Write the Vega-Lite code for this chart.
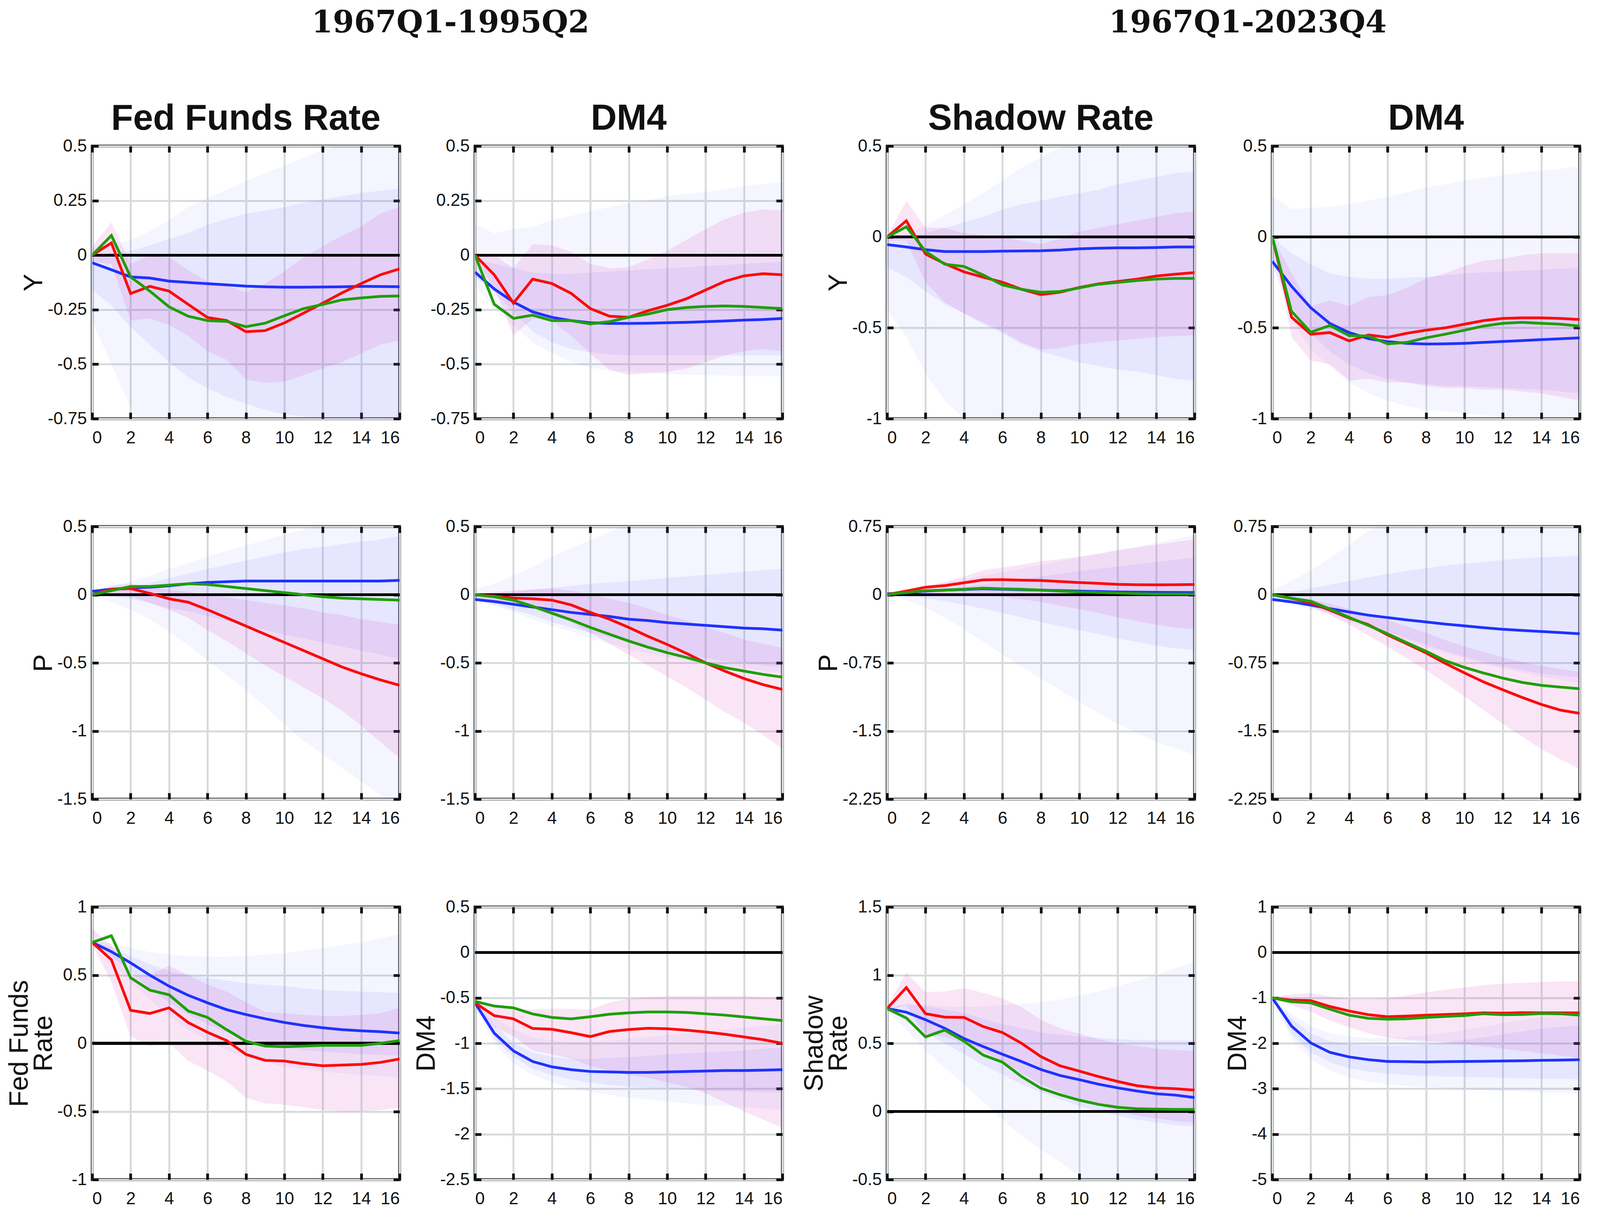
{
  "$schema": "https://vega.github.io/schema/vega-lite/v6.json",
  "background": "white",
  "padding": {"left": 12, "top": 20, "right": 2, "bottom": 2},
  "config": {
    "font": "Liberation Sans",
    "view": {"stroke": "#111111", "strokeWidth": 7},
    "line": {"strokeWidth": 7},
    "axis": {
      "grid": true, "gridColor": "#d6dbdb", "gridWidth": 5, "domain": false,
      "ticks": true, "tickColor": "#111111", "tickWidth": 7, "tickSize": -16,
      "labelFont": "Liberation Sans", "labelFontSize": 44, "labelColor": "#111111",
      "titleFont": "Liberation Sans", "titleFontSize": 68, "titleFontWeight": "normal",
      "titleColor": "#111111", "titlePadding": 0, "titleLineHeight": 62
    },
    "axisX": {"labelPadding": 43},
    "axisY": {"labelPadding": 30},
    "title": {"font": "Liberation Sans", "fontSize": 92, "fontWeight": "bold", "color": "#111111"}
  },
  "datasets": {
    "p11": [
      {"h":0,"b":-0.035,"r":0,"g":0,"bu":0.03,"bl":-0.3,"iu":0,"il":-0.16,"ru":0.04,"rl":-0.03},
      {"h":1,"b":-0.067,"r":0.056,"g":0.09,"bu":0.05,"bl":-0.5,"iu":0.01,"il":-0.23,"ru":0.15,"rl":-0.04},
      {"h":2,"b":-0.1,"r":-0.176,"g":-0.1,"bu":0.07,"bl":-0.7,"iu":0.02,"il":-0.33,"ru":-0.04,"rl":-0.3},
      {"h":3,"b":-0.105,"r":-0.143,"g":-0.165,"bu":0.11,"bl":-0.85,"iu":0.045,"il":-0.41,"ru":0,"rl":-0.29},
      {"h":4,"b":-0.119,"r":-0.165,"g":-0.237,"bu":0.16,"bl":-0.95,"iu":0.075,"il":-0.49,"ru":-0.01,"rl":-0.32},
      {"h":5,"b":-0.125,"r":-0.226,"g":-0.28,"bu":0.22,"bl":-1,"iu":0.1,"il":-0.56,"ru":-0.07,"rl":-0.37},
      {"h":6,"b":-0.131,"r":-0.286,"g":-0.3,"bu":0.26,"bl":-1,"iu":0.14,"il":-0.61,"ru":-0.12,"rl":-0.44},
      {"h":7,"b":-0.136,"r":-0.3,"g":-0.304,"bu":0.3,"bl":-1,"iu":0.165,"il":-0.65,"ru":-0.14,"rl":-0.48},
      {"h":8,"b":-0.142,"r":-0.351,"g":-0.328,"bu":0.34,"bl":-1,"iu":0.19,"il":-0.68,"ru":-0.17,"rl":-0.57},
      {"h":9,"b":-0.145,"r":-0.346,"g":-0.312,"bu":0.375,"bl":-1,"iu":0.205,"il":-0.71,"ru":-0.13,"rl":-0.585},
      {"h":10,"b":-0.147,"r":-0.311,"g":-0.278,"bu":0.41,"bl":-1,"iu":0.22,"il":-0.73,"ru":-0.075,"rl":-0.58},
      {"h":11,"b":-0.147,"r":-0.266,"g":-0.245,"bu":0.445,"bl":-1,"iu":0.24,"il":-0.74,"ru":-0.01,"rl":-0.55},
      {"h":12,"b":-0.146,"r":-0.22,"g":-0.226,"bu":0.48,"bl":-1,"iu":0.255,"il":-0.75,"ru":0.04,"rl":-0.52},
      {"h":13,"b":-0.145,"r":-0.173,"g":-0.205,"bu":0.51,"bl":-1,"iu":0.27,"il":-0.76,"ru":0.09,"rl":-0.49},
      {"h":14,"b":-0.143,"r":-0.13,"g":-0.196,"bu":0.54,"bl":-1,"iu":0.285,"il":-0.76,"ru":0.13,"rl":-0.45},
      {"h":15,"b":-0.144,"r":-0.09,"g":-0.189,"bu":0.57,"bl":-1,"iu":0.295,"il":-0.77,"ru":0.19,"rl":-0.41},
      {"h":16,"b":-0.145,"r":-0.063,"g":-0.187,"bu":0.6,"bl":-1,"iu":0.305,"il":-0.77,"ru":0.22,"rl":-0.39}
    ],
    "p12": [
      {"h":0,"b":-0.078,"r":0,"g":0,"bu":0.14,"bl":-0.14,"iu":-0.02,"il":-0.1,"ru":0,"rl":-0.01},
      {"h":1,"b":-0.155,"r":-0.09,"g":-0.225,"bu":0.1,"bl":-0.24,"iu":-0.04,"il":-0.17,"ru":0,"rl":-0.15},
      {"h":2,"b":-0.215,"r":-0.22,"g":-0.29,"bu":0.12,"bl":-0.32,"iu":-0.06,"il":-0.26,"ru":-0.06,"rl":-0.37},
      {"h":3,"b":-0.26,"r":-0.11,"g":-0.275,"bu":0.13,"bl":-0.4,"iu":-0.08,"il":-0.35,"ru":0.05,"rl":-0.29},
      {"h":4,"b":-0.285,"r":-0.13,"g":-0.3,"bu":0.16,"bl":-0.45,"iu":-0.085,"il":-0.4,"ru":0.045,"rl":-0.3},
      {"h":5,"b":-0.3,"r":-0.175,"g":-0.3,"bu":0.18,"bl":-0.49,"iu":-0.085,"il":-0.43,"ru":0.015,"rl":-0.37},
      {"h":6,"b":-0.31,"r":-0.245,"g":-0.315,"bu":0.2,"bl":-0.515,"iu":-0.08,"il":-0.445,"ru":-0.04,"rl":-0.45},
      {"h":7,"b":-0.313,"r":-0.28,"g":-0.305,"bu":0.22,"bl":-0.53,"iu":-0.075,"il":-0.455,"ru":-0.06,"rl":-0.525},
      {"h":8,"b":-0.313,"r":-0.285,"g":-0.285,"bu":0.24,"bl":-0.535,"iu":-0.07,"il":-0.46,"ru":-0.055,"rl":-0.55},
      {"h":9,"b":-0.312,"r":-0.255,"g":-0.27,"bu":0.25,"bl":-0.54,"iu":-0.065,"il":-0.46,"ru":-0.02,"rl":-0.54},
      {"h":10,"b":-0.31,"r":-0.23,"g":-0.25,"bu":0.27,"bl":-0.545,"iu":-0.06,"il":-0.46,"ru":0.02,"rl":-0.535},
      {"h":11,"b":-0.308,"r":-0.2,"g":-0.24,"bu":0.28,"bl":-0.548,"iu":-0.055,"il":-0.46,"ru":0.07,"rl":-0.52},
      {"h":12,"b":-0.305,"r":-0.16,"g":-0.235,"bu":0.29,"bl":-0.55,"iu":-0.05,"il":-0.46,"ru":0.12,"rl":-0.49},
      {"h":13,"b":-0.302,"r":-0.12,"g":-0.233,"bu":0.3,"bl":-0.552,"iu":-0.045,"il":-0.46,"ru":0.165,"rl":-0.46},
      {"h":14,"b":-0.298,"r":-0.095,"g":-0.235,"bu":0.315,"bl":-0.555,"iu":-0.04,"il":-0.46,"ru":0.195,"rl":-0.44},
      {"h":15,"b":-0.295,"r":-0.085,"g":-0.24,"bu":0.325,"bl":-0.555,"iu":-0.035,"il":-0.46,"ru":0.21,"rl":-0.43},
      {"h":16,"b":-0.29,"r":-0.09,"g":-0.245,"bu":0.335,"bl":-0.555,"iu":-0.03,"il":-0.46,"ru":0.205,"rl":-0.44}
    ],
    "p13": [
      {"h":0,"b":-0.042,"r":0,"g":0,"bu":0.01,"bl":-0.4,"iu":-0.01,"il":-0.17,"ru":0,"rl":-0.02},
      {"h":1,"b":-0.055,"r":0.089,"g":0.056,"bu":0.02,"bl":-0.55,"iu":0,"il":-0.22,"ru":0.2,"rl":-0.02},
      {"h":2,"b":-0.07,"r":-0.094,"g":-0.079,"bu":0.06,"bl":-0.75,"iu":0.02,"il":-0.3,"ru":0.05,"rl":-0.25},
      {"h":3,"b":-0.08,"r":-0.147,"g":-0.15,"bu":0.12,"bl":-0.9,"iu":0.05,"il":-0.37,"ru":0.05,"rl":-0.36},
      {"h":4,"b":-0.08,"r":-0.192,"g":-0.162,"bu":0.18,"bl":-1.0,"iu":0.08,"il":-0.42,"ru":0.02,"rl":-0.42},
      {"h":5,"b":-0.08,"r":-0.221,"g":-0.209,"bu":0.24,"bl":-1.08,"iu":0.11,"il":-0.48,"ru":0.01,"rl":-0.47},
      {"h":6,"b":-0.078,"r":-0.249,"g":-0.264,"bu":0.31,"bl":-1.15,"iu":0.15,"il":-0.53,"ru":0,"rl":-0.52},
      {"h":7,"b":-0.077,"r":-0.288,"g":-0.288,"bu":0.38,"bl":-1.2,"iu":0.18,"il":-0.59,"ru":-0.02,"rl":-0.58},
      {"h":8,"b":-0.076,"r":-0.317,"g":-0.304,"bu":0.44,"bl":-1.2,"iu":0.2,"il":-0.63,"ru":-0.04,"rl":-0.62},
      {"h":9,"b":-0.072,"r":-0.304,"g":-0.3,"bu":0.49,"bl":-1.2,"iu":0.22,"il":-0.66,"ru":-0.01,"rl":-0.61},
      {"h":10,"b":-0.065,"r":-0.278,"g":-0.28,"bu":0.53,"bl":-1.2,"iu":0.24,"il":-0.69,"ru":0.03,"rl":-0.59},
      {"h":11,"b":-0.062,"r":-0.258,"g":-0.26,"bu":0.56,"bl":-1.2,"iu":0.26,"il":-0.71,"ru":0.05,"rl":-0.58},
      {"h":12,"b":-0.06,"r":-0.245,"g":-0.25,"bu":0.6,"bl":-1.2,"iu":0.29,"il":-0.73,"ru":0.07,"rl":-0.57},
      {"h":13,"b":-0.06,"r":-0.232,"g":-0.24,"bu":0.62,"bl":-1.2,"iu":0.31,"il":-0.74,"ru":0.09,"rl":-0.56},
      {"h":14,"b":-0.058,"r":-0.215,"g":-0.232,"bu":0.64,"bl":-1.2,"iu":0.33,"il":-0.76,"ru":0.11,"rl":-0.55},
      {"h":15,"b":-0.055,"r":-0.205,"g":-0.228,"bu":0.66,"bl":-1.2,"iu":0.35,"il":-0.78,"ru":0.13,"rl":-0.545},
      {"h":16,"b":-0.055,"r":-0.196,"g":-0.228,"bu":0.68,"bl":-1.2,"iu":0.36,"il":-0.79,"ru":0.14,"rl":-0.54}
    ],
    "p14": [
      {"h":0,"b":-0.134,"r":0,"g":0,"bu":0.226,"bl":-0.15,"iu":0,"il":-0.15,"ru":0,"rl":0},
      {"h":1,"b":-0.271,"r":-0.441,"g":-0.408,"bu":0.154,"bl":-0.45,"iu":-0.09,"il":-0.38,"ru":-0.2,"rl":-0.55},
      {"h":2,"b":-0.389,"r":-0.535,"g":-0.524,"bu":0.16,"bl":-0.62,"iu":-0.15,"il":-0.53,"ru":-0.38,"rl":-0.68},
      {"h":3,"b":-0.476,"r":-0.526,"g":-0.487,"bu":0.165,"bl":-0.71,"iu":-0.2,"il":-0.63,"ru":-0.35,"rl":-0.7},
      {"h":4,"b":-0.526,"r":-0.572,"g":-0.543,"bu":0.18,"bl":-0.8,"iu":-0.22,"il":-0.7,"ru":-0.38,"rl":-0.79},
      {"h":5,"b":-0.559,"r":-0.539,"g":-0.545,"bu":0.2,"bl":-0.86,"iu":-0.23,"il":-0.75,"ru":-0.33,"rl":-0.78},
      {"h":6,"b":-0.576,"r":-0.552,"g":-0.588,"bu":0.22,"bl":-0.9,"iu":-0.23,"il":-0.78,"ru":-0.32,"rl":-0.8},
      {"h":7,"b":-0.585,"r":-0.53,"g":-0.58,"bu":0.245,"bl":-0.93,"iu":-0.225,"il":-0.8,"ru":-0.28,"rl":-0.8},
      {"h":8,"b":-0.589,"r":-0.513,"g":-0.555,"bu":0.27,"bl":-0.95,"iu":-0.22,"il":-0.81,"ru":-0.23,"rl":-0.82},
      {"h":9,"b":-0.588,"r":-0.5,"g":-0.535,"bu":0.29,"bl":-0.96,"iu":-0.21,"il":-0.82,"ru":-0.2,"rl":-0.83},
      {"h":10,"b":-0.585,"r":-0.48,"g":-0.513,"bu":0.31,"bl":-0.97,"iu":-0.2,"il":-0.82,"ru":-0.16,"rl":-0.83},
      {"h":11,"b":-0.58,"r":-0.46,"g":-0.49,"bu":0.325,"bl":-0.98,"iu":-0.195,"il":-0.825,"ru":-0.13,"rl":-0.84},
      {"h":12,"b":-0.575,"r":-0.448,"g":-0.475,"bu":0.34,"bl":-0.99,"iu":-0.19,"il":-0.83,"ru":-0.12,"rl":-0.84},
      {"h":13,"b":-0.57,"r":-0.445,"g":-0.47,"bu":0.355,"bl":-1.0,"iu":-0.185,"il":-0.835,"ru":-0.1,"rl":-0.85},
      {"h":14,"b":-0.565,"r":-0.445,"g":-0.475,"bu":0.365,"bl":-1.0,"iu":-0.18,"il":-0.84,"ru":-0.09,"rl":-0.86},
      {"h":15,"b":-0.56,"r":-0.448,"g":-0.48,"bu":0.375,"bl":-1.01,"iu":-0.175,"il":-0.85,"ru":-0.09,"rl":-0.88},
      {"h":16,"b":-0.555,"r":-0.454,"g":-0.49,"bu":0.387,"bl":-1.02,"iu":-0.17,"il":-0.86,"ru":-0.09,"rl":-0.9}
    ],
    "p21": [
      {"h":0,"b":0.025,"r":0,"g":0,"bu":0.03,"bl":-0.01,"iu":0.01,"il":0,"ru":0.01,"rl":-0.01},
      {"h":1,"b":0.04,"r":0.04,"g":0.03,"bu":0.06,"bl":-0.05,"iu":0.03,"il":-0.01,"ru":0.07,"rl":-0.01},
      {"h":2,"b":0.05,"r":0.045,"g":0.06,"bu":0.1,"bl":-0.11,"iu":0.055,"il":-0.03,"ru":0.08,"rl":-0.01},
      {"h":3,"b":0.055,"r":0.01,"g":0.06,"bu":0.14,"bl":-0.18,"iu":0.085,"il":-0.06,"ru":0.06,"rl":-0.06},
      {"h":4,"b":0.065,"r":-0.03,"g":0.07,"bu":0.19,"bl":-0.27,"iu":0.12,"il":-0.1,"ru":0.035,"rl":-0.11},
      {"h":5,"b":0.08,"r":-0.055,"g":0.08,"bu":0.23,"bl":-0.37,"iu":0.155,"il":-0.12,"ru":0.02,"rl":-0.17},
      {"h":6,"b":0.09,"r":-0.11,"g":0.075,"bu":0.28,"bl":-0.48,"iu":0.19,"il":-0.155,"ru":-0.005,"rl":-0.26},
      {"h":7,"b":0.095,"r":-0.17,"g":0.06,"bu":0.32,"bl":-0.59,"iu":0.22,"il":-0.19,"ru":-0.02,"rl":-0.34},
      {"h":8,"b":0.1,"r":-0.23,"g":0.045,"bu":0.36,"bl":-0.7,"iu":0.25,"il":-0.225,"ru":-0.04,"rl":-0.43},
      {"h":9,"b":0.1,"r":-0.29,"g":0.03,"bu":0.4,"bl":-0.82,"iu":0.28,"il":-0.26,"ru":-0.06,"rl":-0.52},
      {"h":10,"b":0.1,"r":-0.35,"g":0.015,"bu":0.44,"bl":-0.95,"iu":0.31,"il":-0.295,"ru":-0.08,"rl":-0.6},
      {"h":11,"b":0.1,"r":-0.41,"g":0,"bu":0.48,"bl":-1.07,"iu":0.335,"il":-0.32,"ru":-0.1,"rl":-0.68},
      {"h":12,"b":0.1,"r":-0.47,"g":-0.015,"bu":0.52,"bl":-1.17,"iu":0.35,"il":-0.35,"ru":-0.13,"rl":-0.76},
      {"h":13,"b":0.1,"r":-0.53,"g":-0.025,"bu":0.55,"bl":-1.27,"iu":0.37,"il":-0.38,"ru":-0.15,"rl":-0.85},
      {"h":14,"b":0.1,"r":-0.58,"g":-0.03,"bu":0.58,"bl":-1.37,"iu":0.39,"il":-0.41,"ru":-0.18,"rl":-0.96},
      {"h":15,"b":0.1,"r":-0.625,"g":-0.035,"bu":0.6,"bl":-1.47,"iu":0.405,"il":-0.44,"ru":-0.2,"rl":-1.08},
      {"h":16,"b":0.105,"r":-0.665,"g":-0.04,"bu":0.62,"bl":-1.56,"iu":0.43,"il":-0.47,"ru":-0.22,"rl":-1.2}
    ],
    "p22": [
      {"h":0,"b":-0.035,"r":0,"g":0,"bu":0.04,"bl":-0.04,"iu":0,"il":-0.04,"ru":0,"rl":-0.03},
      {"h":1,"b":-0.05,"r":-0.01,"g":-0.015,"bu":0.08,"bl":-0.08,"iu":0.01,"il":-0.07,"ru":0.02,"rl":-0.05},
      {"h":2,"b":-0.07,"r":-0.025,"g":-0.04,"bu":0.14,"bl":-0.13,"iu":0.02,"il":-0.11,"ru":0.03,"rl":-0.07},
      {"h":3,"b":-0.09,"r":-0.03,"g":-0.085,"bu":0.2,"bl":-0.18,"iu":0.035,"il":-0.15,"ru":0.04,"rl":-0.1},
      {"h":4,"b":-0.11,"r":-0.04,"g":-0.135,"bu":0.28,"bl":-0.23,"iu":0.05,"il":-0.2,"ru":0.045,"rl":-0.15},
      {"h":5,"b":-0.13,"r":-0.075,"g":-0.185,"bu":0.34,"bl":-0.27,"iu":0.065,"il":-0.24,"ru":0.03,"rl":-0.2},
      {"h":6,"b":-0.145,"r":-0.13,"g":-0.24,"bu":0.4,"bl":-0.315,"iu":0.08,"il":-0.28,"ru":0,"rl":-0.28},
      {"h":7,"b":-0.16,"r":-0.18,"g":-0.29,"bu":0.46,"bl":-0.36,"iu":0.09,"il":-0.31,"ru":-0.03,"rl":-0.36},
      {"h":8,"b":-0.18,"r":-0.24,"g":-0.34,"bu":0.52,"bl":-0.4,"iu":0.1,"il":-0.345,"ru":-0.06,"rl":-0.44},
      {"h":9,"b":-0.19,"r":-0.305,"g":-0.385,"bu":0.55,"bl":-0.43,"iu":0.11,"il":-0.38,"ru":-0.1,"rl":-0.52},
      {"h":10,"b":-0.205,"r":-0.365,"g":-0.425,"bu":0.58,"bl":-0.46,"iu":0.125,"il":-0.41,"ru":-0.15,"rl":-0.6},
      {"h":11,"b":-0.215,"r":-0.43,"g":-0.46,"bu":0.61,"bl":-0.48,"iu":0.135,"il":-0.44,"ru":-0.19,"rl":-0.68},
      {"h":12,"b":-0.225,"r":-0.5,"g":-0.5,"bu":0.64,"bl":-0.5,"iu":0.145,"il":-0.465,"ru":-0.24,"rl":-0.77},
      {"h":13,"b":-0.235,"r":-0.56,"g":-0.535,"bu":0.66,"bl":-0.52,"iu":0.155,"il":-0.49,"ru":-0.28,"rl":-0.86},
      {"h":14,"b":-0.245,"r":-0.615,"g":-0.56,"bu":0.68,"bl":-0.54,"iu":0.17,"il":-0.5,"ru":-0.33,"rl":-0.94},
      {"h":15,"b":-0.25,"r":-0.66,"g":-0.585,"bu":0.7,"bl":-0.56,"iu":0.18,"il":-0.52,"ru":-0.36,"rl":-1.03},
      {"h":16,"b":-0.26,"r":-0.695,"g":-0.605,"bu":0.72,"bl":-0.57,"iu":0.19,"il":-0.53,"ru":-0.39,"rl":-1.13}
    ],
    "p23": [
      {"h":0,"b":0.01,"r":0,"g":0,"bu":0.02,"bl":-0.01,"iu":0.01,"il":-0.01,"ru":0.01,"rl":0},
      {"h":1,"b":0.02,"r":0.04,"g":0.025,"bu":0.05,"bl":-0.06,"iu":0.03,"il":-0.02,"ru":0.04,"rl":0},
      {"h":2,"b":0.04,"r":0.082,"g":0.044,"bu":0.09,"bl":-0.14,"iu":0.05,"il":-0.04,"ru":0.1,"rl":0.01},
      {"h":3,"b":0.05,"r":0.1,"g":0.05,"bu":0.13,"bl":-0.25,"iu":0.07,"il":-0.07,"ru":0.14,"rl":0},
      {"h":4,"b":0.057,"r":0.131,"g":0.06,"bu":0.17,"bl":-0.38,"iu":0.09,"il":-0.11,"ru":0.2,"rl":0},
      {"h":5,"b":0.065,"r":0.163,"g":0.072,"bu":0.21,"bl":-0.52,"iu":0.115,"il":-0.155,"ru":0.27,"rl":-0.01},
      {"h":6,"b":0.06,"r":0.165,"g":0.065,"bu":0.25,"bl":-0.66,"iu":0.14,"il":-0.2,"ru":0.3,"rl":-0.02},
      {"h":7,"b":0.055,"r":0.16,"g":0.06,"bu":0.29,"bl":-0.79,"iu":0.17,"il":-0.25,"ru":0.33,"rl":-0.05},
      {"h":8,"b":0.05,"r":0.156,"g":0.05,"bu":0.33,"bl":-0.92,"iu":0.2,"il":-0.3,"ru":0.37,"rl":-0.08},
      {"h":9,"b":0.045,"r":0.145,"g":0.04,"bu":0.37,"bl":-1.05,"iu":0.23,"il":-0.345,"ru":0.39,"rl":-0.12},
      {"h":10,"b":0.04,"r":0.133,"g":0.03,"bu":0.41,"bl":-1.18,"iu":0.26,"il":-0.39,"ru":0.42,"rl":-0.16},
      {"h":11,"b":0.035,"r":0.125,"g":0.025,"bu":0.45,"bl":-1.3,"iu":0.285,"il":-0.435,"ru":0.45,"rl":-0.2},
      {"h":12,"b":0.03,"r":0.114,"g":0.018,"bu":0.49,"bl":-1.42,"iu":0.31,"il":-0.48,"ru":0.49,"rl":-0.25},
      {"h":13,"b":0.028,"r":0.11,"g":0.012,"bu":0.53,"bl":-1.52,"iu":0.335,"il":-0.52,"ru":0.52,"rl":-0.29},
      {"h":14,"b":0.026,"r":0.108,"g":0.008,"bu":0.57,"bl":-1.62,"iu":0.36,"il":-0.56,"ru":0.55,"rl":-0.33},
      {"h":15,"b":0.025,"r":0.11,"g":0.007,"bu":0.61,"bl":-1.69,"iu":0.385,"il":-0.59,"ru":0.58,"rl":-0.36},
      {"h":16,"b":0.024,"r":0.112,"g":0.006,"bu":0.66,"bl":-1.76,"iu":0.41,"il":-0.61,"ru":0.61,"rl":-0.38}
    ],
    "p24": [
      {"h":0,"b":-0.052,"r":0,"g":0,"bu":0.05,"bl":-0.06,"iu":0,"il":-0.06,"ru":0,"rl":-0.02},
      {"h":1,"b":-0.079,"r":-0.04,"g":-0.04,"bu":0.15,"bl":-0.1,"iu":0.03,"il":-0.09,"ru":-0.02,"rl":-0.06},
      {"h":2,"b":-0.114,"r":-0.09,"g":-0.072,"bu":0.27,"bl":-0.16,"iu":0.07,"il":-0.14,"ru":-0.05,"rl":-0.12},
      {"h":3,"b":-0.153,"r":-0.17,"g":-0.158,"bu":0.4,"bl":-0.22,"iu":0.11,"il":-0.2,"ru":-0.1,"rl":-0.22},
      {"h":4,"b":-0.19,"r":-0.257,"g":-0.249,"bu":0.55,"bl":-0.3,"iu":0.15,"il":-0.27,"ru":-0.16,"rl":-0.33},
      {"h":5,"b":-0.225,"r":-0.33,"g":-0.338,"bu":0.7,"bl":-0.37,"iu":0.19,"il":-0.34,"ru":-0.22,"rl":-0.45},
      {"h":6,"b":-0.252,"r":-0.442,"g":-0.43,"bu":0.82,"bl":-0.45,"iu":0.23,"il":-0.41,"ru":-0.28,"rl":-0.57},
      {"h":7,"b":-0.277,"r":-0.54,"g":-0.528,"bu":0.9,"bl":-0.52,"iu":0.26,"il":-0.48,"ru":-0.35,"rl":-0.7},
      {"h":8,"b":-0.3,"r":-0.64,"g":-0.622,"bu":0.95,"bl":-0.58,"iu":0.29,"il":-0.55,"ru":-0.42,"rl":-0.83},
      {"h":9,"b":-0.323,"r":-0.755,"g":-0.726,"bu":1,"bl":-0.64,"iu":0.32,"il":-0.62,"ru":-0.5,"rl":-0.97},
      {"h":10,"b":-0.343,"r":-0.86,"g":-0.8,"bu":1,"bl":-0.7,"iu":0.34,"il":-0.68,"ru":-0.57,"rl":-1.12},
      {"h":11,"b":-0.363,"r":-0.96,"g":-0.862,"bu":1,"bl":-0.76,"iu":0.36,"il":-0.74,"ru":-0.63,"rl":-1.27},
      {"h":12,"b":-0.38,"r":-1.047,"g":-0.918,"bu":1,"bl":-0.81,"iu":0.38,"il":-0.79,"ru":-0.69,"rl":-1.42},
      {"h":13,"b":-0.393,"r":-1.13,"g":-0.965,"bu":1,"bl":-0.86,"iu":0.4,"il":-0.83,"ru":-0.74,"rl":-1.56},
      {"h":14,"b":-0.405,"r":-1.207,"g":-0.997,"bu":1,"bl":-0.9,"iu":0.41,"il":-0.87,"ru":-0.78,"rl":-1.7},
      {"h":15,"b":-0.417,"r":-1.27,"g":-1.017,"bu":1,"bl":-0.94,"iu":0.42,"il":-0.89,"ru":-0.82,"rl":-1.81},
      {"h":16,"b":-0.43,"r":-1.306,"g":-1.035,"bu":1,"bl":-0.97,"iu":0.43,"il":-0.91,"ru":-0.85,"rl":-1.92}
    ],
    "p31": [
      {"h":0,"b":0.74,"r":0.74,"g":0.74,"bu":0.75,"bl":0.74,"iu":0.75,"il":0.74,"ru":0.84,"rl":0.72},
      {"h":1,"b":0.672,"r":0.6125,"g":0.789,"bu":0.73,"bl":0.6,"iu":0.7,"il":0.64,"ru":0.72,"rl":0.45},
      {"h":2,"b":0.59,"r":0.242,"g":0.481,"bu":0.7,"bl":0.45,"iu":0.64,"il":0.52,"ru":0.49,"rl":0.05},
      {"h":3,"b":0.5,"r":0.219,"g":0.39,"bu":0.67,"bl":0.32,"iu":0.58,"il":0.4,"ru":0.5,"rl":-0.02},
      {"h":4,"b":0.419,"r":0.26,"g":0.356,"bu":0.65,"bl":0.2,"iu":0.53,"il":0.3,"ru":0.57,"rl":0},
      {"h":5,"b":0.352,"r":0.152,"g":0.237,"bu":0.64,"bl":0.1,"iu":0.5,"il":0.21,"ru":0.5,"rl":-0.13},
      {"h":6,"b":0.297,"r":0.081,"g":0.19,"bu":0.635,"bl":0.02,"iu":0.48,"il":0.14,"ru":0.43,"rl":-0.2},
      {"h":7,"b":0.247,"r":0.02,"g":0.1,"bu":0.635,"bl":-0.05,"iu":0.46,"il":0.08,"ru":0.38,"rl":-0.28},
      {"h":8,"b":0.211,"r":-0.081,"g":0.015,"bu":0.64,"bl":-0.1,"iu":0.44,"il":0.03,"ru":0.3,"rl":-0.4},
      {"h":9,"b":0.18,"r":-0.125,"g":-0.02,"bu":0.65,"bl":-0.14,"iu":0.43,"il":0,"ru":0.23,"rl":-0.44},
      {"h":10,"b":0.153,"r":-0.13,"g":-0.025,"bu":0.66,"bl":-0.17,"iu":0.42,"il":-0.03,"ru":0.22,"rl":-0.45},
      {"h":11,"b":0.131,"r":-0.15,"g":-0.02,"bu":0.68,"bl":-0.19,"iu":0.405,"il":-0.05,"ru":0.21,"rl":-0.47},
      {"h":12,"b":0.114,"r":-0.165,"g":-0.015,"bu":0.7,"bl":-0.21,"iu":0.39,"il":-0.06,"ru":0.2,"rl":-0.49},
      {"h":13,"b":0.1,"r":-0.16,"g":-0.015,"bu":0.72,"bl":-0.22,"iu":0.385,"il":-0.07,"ru":0.2,"rl":-0.5},
      {"h":14,"b":0.092,"r":-0.155,"g":-0.015,"bu":0.74,"bl":-0.23,"iu":0.38,"il":-0.08,"ru":0.21,"rl":-0.5},
      {"h":15,"b":0.085,"r":-0.14,"g":0,"bu":0.77,"bl":-0.24,"iu":0.375,"il":-0.085,"ru":0.22,"rl":-0.49},
      {"h":16,"b":0.075,"r":-0.115,"g":0.02,"bu":0.8,"bl":-0.25,"iu":0.37,"il":-0.09,"ru":0.26,"rl":-0.47}
    ],
    "p32": [
      {"h":0,"b":-0.555,"r":-0.555,"g":-0.539,"bu":-0.5,"bl":-0.6,"iu":-0.53,"il":-0.57,"ru":-0.52,"rl":-0.58},
      {"h":1,"b":-0.888,"r":-0.696,"g":-0.59,"bu":-0.7,"bl":-1.0,"iu":-0.8,"il":-0.95,"ru":-0.6,"rl":-0.82},
      {"h":2,"b":-1.083,"r":-0.731,"g":-0.61,"bu":-0.85,"bl":-1.22,"iu":-1.0,"il":-1.15,"ru":-0.62,"rl":-0.92},
      {"h":3,"b":-1.2,"r":-0.837,"g":-0.677,"bu":-0.93,"bl":-1.35,"iu":-1.1,"il":-1.28,"ru":-0.63,"rl":-1.08},
      {"h":4,"b":-1.259,"r":-0.845,"g":-0.715,"bu":-0.97,"bl":-1.43,"iu":-1.15,"il":-1.35,"ru":-0.62,"rl":-1.12},
      {"h":5,"b":-1.29,"r":-0.883,"g":-0.731,"bu":-0.98,"bl":-1.49,"iu":-1.17,"il":-1.4,"ru":-0.62,"rl":-1.17},
      {"h":6,"b":-1.31,"r":-0.926,"g":-0.708,"bu":-0.98,"bl":-1.53,"iu":-1.17,"il":-1.43,"ru":-0.63,"rl":-1.25},
      {"h":7,"b":-1.315,"r":-0.87,"g":-0.68,"bu":-0.97,"bl":-1.57,"iu":-1.16,"il":-1.46,"ru":-0.55,"rl":-1.3},
      {"h":8,"b":-1.32,"r":-0.848,"g":-0.665,"bu":-0.95,"bl":-1.6,"iu":-1.15,"il":-1.48,"ru":-0.51,"rl":-1.35},
      {"h":9,"b":-1.32,"r":-0.835,"g":-0.655,"bu":-0.93,"bl":-1.62,"iu":-1.14,"il":-1.49,"ru":-0.49,"rl":-1.38},
      {"h":10,"b":-1.315,"r":-0.84,"g":-0.655,"bu":-0.91,"bl":-1.64,"iu":-1.12,"il":-1.5,"ru":-0.48,"rl":-1.43},
      {"h":11,"b":-1.31,"r":-0.855,"g":-0.66,"bu":-0.89,"bl":-1.66,"iu":-1.11,"il":-1.51,"ru":-0.48,"rl":-1.48},
      {"h":12,"b":-1.305,"r":-0.875,"g":-0.675,"bu":-0.87,"bl":-1.68,"iu":-1.1,"il":-1.52,"ru":-0.48,"rl":-1.55},
      {"h":13,"b":-1.3,"r":-0.9,"g":-0.69,"bu":-0.85,"bl":-1.69,"iu":-1.09,"il":-1.53,"ru":-0.48,"rl":-1.65},
      {"h":14,"b":-1.3,"r":-0.93,"g":-0.71,"bu":-0.83,"bl":-1.7,"iu":-1.08,"il":-1.53,"ru":-0.48,"rl":-1.75},
      {"h":15,"b":-1.295,"r":-0.96,"g":-0.73,"bu":-0.81,"bl":-1.72,"iu":-1.06,"il":-1.54,"ru":-0.49,"rl":-1.84},
      {"h":16,"b":-1.29,"r":-1.0,"g":-0.75,"bu":-0.79,"bl":-1.73,"iu":-1.05,"il":-1.54,"ru":-0.49,"rl":-1.93}
    ],
    "p33": [
      {"h":0,"b":0.755,"r":0.755,"g":0.755,"bu":0.76,"bl":0.74,"iu":0.76,"il":0.745,"ru":0.77,"rl":0.74},
      {"h":1,"b":0.728,"r":0.909,"g":0.686,"bu":0.79,"bl":0.6,"iu":0.785,"il":0.66,"ru":1.02,"rl":0.78},
      {"h":2,"b":0.673,"r":0.717,"g":0.547,"bu":0.78,"bl":0.45,"iu":0.77,"il":0.58,"ru":0.877,"rl":0.56},
      {"h":3,"b":0.61,"r":0.692,"g":0.597,"bu":0.77,"bl":0.32,"iu":0.75,"il":0.5,"ru":0.88,"rl":0.55},
      {"h":4,"b":0.535,"r":0.69,"g":0.516,"bu":0.77,"bl":0.2,"iu":0.72,"il":0.42,"ru":0.905,"rl":0.5},
      {"h":5,"b":0.476,"r":0.623,"g":0.414,"bu":0.77,"bl":0.07,"iu":0.68,"il":0.34,"ru":0.87,"rl":0.44},
      {"h":6,"b":0.42,"r":0.579,"g":0.362,"bu":0.78,"bl":-0.06,"iu":0.64,"il":0.27,"ru":0.83,"rl":0.37},
      {"h":7,"b":0.366,"r":0.5,"g":0.256,"bu":0.79,"bl":-0.18,"iu":0.61,"il":0.2,"ru":0.764,"rl":0.28},
      {"h":8,"b":0.308,"r":0.403,"g":0.17,"bu":0.8,"bl":-0.28,"iu":0.58,"il":0.14,"ru":0.673,"rl":0.2},
      {"h":9,"b":0.264,"r":0.335,"g":0.123,"bu":0.82,"bl":-0.37,"iu":0.565,"il":0.09,"ru":0.61,"rl":0.14},
      {"h":10,"b":0.233,"r":0.296,"g":0.083,"bu":0.85,"bl":-0.47,"iu":0.55,"il":0.04,"ru":0.57,"rl":0.09},
      {"h":11,"b":0.2,"r":0.256,"g":0.052,"bu":0.88,"bl":-0.55,"iu":0.54,"il":0,"ru":0.53,"rl":0.05},
      {"h":12,"b":0.173,"r":0.22,"g":0.031,"bu":0.92,"bl":-0.62,"iu":0.53,"il":-0.03,"ru":0.5,"rl":0},
      {"h":13,"b":0.15,"r":0.189,"g":0.02,"bu":0.96,"bl":-0.68,"iu":0.525,"il":-0.06,"ru":0.48,"rl":-0.03},
      {"h":14,"b":0.13,"r":0.173,"g":0.017,"bu":1.0,"bl":-0.73,"iu":0.52,"il":-0.08,"ru":0.46,"rl":-0.05},
      {"h":15,"b":0.12,"r":0.167,"g":0.015,"bu":1.05,"bl":-0.77,"iu":0.52,"il":-0.1,"ru":0.45,"rl":-0.07},
      {"h":16,"b":0.102,"r":0.157,"g":0.015,"bu":1.1,"bl":-0.8,"iu":0.52,"il":-0.11,"ru":0.445,"rl":-0.078}
    ],
    "p34": [
      {"h":0,"b":-1.0,"r":-1.0,"g":-1.0,"bu":-1.0,"bl":-1.0,"iu":-1.0,"il":-1.0,"ru":-0.98,"rl":-1.02},
      {"h":1,"b":-1.62,"r":-1.05,"g":-1.085,"bu":-1.35,"bl":-1.9,"iu":-1.45,"il":-1.8,"ru":-0.93,"rl":-1.17},
      {"h":2,"b":-1.99,"r":-1.06,"g":-1.11,"bu":-1.62,"bl":-2.35,"iu":-1.78,"il":-2.2,"ru":-0.89,"rl":-1.3},
      {"h":3,"b":-2.2,"r":-1.19,"g":-1.25,"bu":-1.78,"bl":-2.6,"iu":-1.95,"il":-2.42,"ru":-0.97,"rl":-1.5},
      {"h":4,"b":-2.3,"r":-1.29,"g":-1.38,"bu":-1.85,"bl":-2.75,"iu":-2.02,"il":-2.55,"ru":-1.02,"rl":-1.65},
      {"h":5,"b":-2.36,"r":-1.37,"g":-1.45,"bu":-1.88,"bl":-2.84,"iu":-2.05,"il":-2.62,"ru":-1.03,"rl":-1.78},
      {"h":6,"b":-2.4,"r":-1.415,"g":-1.47,"bu":-1.88,"bl":-2.9,"iu":-2.06,"il":-2.67,"ru":-1.0,"rl":-1.87},
      {"h":7,"b":-2.405,"r":-1.4,"g":-1.46,"bu":-1.86,"bl":-2.94,"iu":-2.05,"il":-2.7,"ru":-0.95,"rl":-1.92},
      {"h":8,"b":-2.41,"r":-1.38,"g":-1.43,"bu":-1.82,"bl":-2.97,"iu":-2.02,"il":-2.72,"ru":-0.88,"rl":-1.95},
      {"h":9,"b":-2.405,"r":-1.365,"g":-1.41,"bu":-1.77,"bl":-2.99,"iu":-1.98,"il":-2.73,"ru":-0.82,"rl":-1.98},
      {"h":10,"b":-2.4,"r":-1.35,"g":-1.39,"bu":-1.71,"bl":-3.01,"iu":-1.93,"il":-2.74,"ru":-0.77,"rl":-2.02},
      {"h":11,"b":-2.395,"r":-1.33,"g":-1.35,"bu":-1.64,"bl":-3.03,"iu":-1.87,"il":-2.75,"ru":-0.72,"rl":-2.07},
      {"h":12,"b":-2.39,"r":-1.335,"g":-1.37,"bu":-1.56,"bl":-3.05,"iu":-1.8,"il":-2.76,"ru":-0.69,"rl":-2.12},
      {"h":13,"b":-2.385,"r":-1.325,"g":-1.365,"bu":-1.49,"bl":-3.06,"iu":-1.74,"il":-2.77,"ru":-0.67,"rl":-2.17},
      {"h":14,"b":-2.375,"r":-1.33,"g":-1.345,"bu":-1.42,"bl":-3.08,"iu":-1.68,"il":-2.78,"ru":-0.65,"rl":-2.22},
      {"h":15,"b":-2.37,"r":-1.33,"g":-1.35,"bu":-1.37,"bl":-3.09,"iu":-1.64,"il":-2.78,"ru":-0.64,"rl":-2.27},
      {"h":16,"b":-2.36,"r":-1.33,"g":-1.38,"bu":-1.32,"bl":-3.1,"iu":-1.6,"il":-2.79,"ru":-0.64,"rl":-2.32}
    ]
  },
  "hconcat": [
    {
      "title": {"text": "1967Q1-1995Q2", "font": "DejaVu Serif", "fontSize": 78, "fontWeight": "bold", "baseline": "alphabetic", "anchor": "middle", "offset": 94, "dx": 142},
      "columns": 2,
      "spacing": {"column": 193, "row": 276},
      "bounds": "flush",
      "concat": [
        {"width": 787, "height": 698, "data": {"name": "p11"},
         "title": {"text": "Fed Funds Rate", "baseline": "alphabetic", "offset": -72},
         "layer": [
          {"mark": {"type": "area", "clip": true, "color": "#5b5bff", "opacity": 0.06},
           "encoding": {"x": {"field": "h", "type": "quantitative", "scale": {"domain": [0, 16], "nice": false}, "axis": {"orient": "bottom", "values": [0,2,4,6,8,10,12,14,16], "title": null}},
             "y": {"field": "bl", "type": "quantitative", "scale": {"domain": [-0.75, 0.5], "nice": false, "zero": false}, "axis": {"orient": "left", "values": [-0.75,-0.5,-0.25,0,0.25,0.5], "labelExpr": "'' + datum.value", "title": "Y"}},
             "y2": {"field": "bu"}}},
          {"mark": {"type": "area", "clip": true, "color": "#5b5bff", "opacity": 0.09},
           "encoding": {"x": {"field": "h", "type": "quantitative", "axis": null}, "y": {"field": "il", "type": "quantitative", "axis": null}, "y2": {"field": "iu"}}},
          {"mark": {"type": "area", "clip": true, "color": "#d526b4", "opacity": 0.12},
           "encoding": {"x": {"field": "h", "type": "quantitative", "axis": null}, "y": {"field": "rl", "type": "quantitative", "axis": null}, "y2": {"field": "ru"}}},
          {"mark": {"type": "rule", "color": "#000000", "strokeWidth": 6.5}, "encoding": {"y": {"datum": 0, "axis": null}}},
          {"mark": {"type": "line", "clip": true, "color": "#1e32ff"},
           "encoding": {"x": {"field": "h", "type": "quantitative", "axis": {"orient": "top", "values": [0,2,4,6,8,10,12,14,16], "labels": false, "grid": false, "title": null}},
             "y": {"field": "b", "type": "quantitative", "axis": {"orient": "right", "values": [-0.75,-0.5,-0.25,0,0.25,0.5], "labels": false, "grid": false, "title": null}}}},
          {"mark": {"type": "line", "clip": true, "color": "#ff0a0a"}, "encoding": {"x": {"field": "h", "type": "quantitative", "axis": null}, "y": {"field": "r", "type": "quantitative", "axis": null}}},
          {"mark": {"type": "line", "clip": true, "color": "#1f9e08"}, "encoding": {"x": {"field": "h", "type": "quantitative", "axis": null}, "y": {"field": "g", "type": "quantitative", "axis": null}}}
         ]},
        {"width": 787, "height": 698, "data": {"name": "p12"},
         "title": {"text": "DM4", "baseline": "alphabetic", "offset": -72},
         "layer": [
          {"mark": {"type": "area", "clip": true, "color": "#5b5bff", "opacity": 0.06},
           "encoding": {"x": {"field": "h", "type": "quantitative", "scale": {"domain": [0, 16], "nice": false}, "axis": {"orient": "bottom", "values": [0,2,4,6,8,10,12,14,16], "title": null}},
             "y": {"field": "bl", "type": "quantitative", "scale": {"domain": [-0.75, 0.5], "nice": false, "zero": false}, "axis": {"orient": "left", "values": [-0.75,-0.5,-0.25,0,0.25,0.5], "labelExpr": "'' + datum.value", "title": null}},
             "y2": {"field": "bu"}}},
          {"mark": {"type": "area", "clip": true, "color": "#5b5bff", "opacity": 0.09},
           "encoding": {"x": {"field": "h", "type": "quantitative", "axis": null}, "y": {"field": "il", "type": "quantitative", "axis": null}, "y2": {"field": "iu"}}},
          {"mark": {"type": "area", "clip": true, "color": "#d526b4", "opacity": 0.12},
           "encoding": {"x": {"field": "h", "type": "quantitative", "axis": null}, "y": {"field": "rl", "type": "quantitative", "axis": null}, "y2": {"field": "ru"}}},
          {"mark": {"type": "rule", "color": "#000000", "strokeWidth": 6.5}, "encoding": {"y": {"datum": 0, "axis": null}}},
          {"mark": {"type": "line", "clip": true, "color": "#1e32ff"},
           "encoding": {"x": {"field": "h", "type": "quantitative", "axis": {"orient": "top", "values": [0,2,4,6,8,10,12,14,16], "labels": false, "grid": false, "title": null}},
             "y": {"field": "b", "type": "quantitative", "axis": {"orient": "right", "values": [-0.75,-0.5,-0.25,0,0.25,0.5], "labels": false, "grid": false, "title": null}}}},
          {"mark": {"type": "line", "clip": true, "color": "#ff0a0a"}, "encoding": {"x": {"field": "h", "type": "quantitative", "axis": null}, "y": {"field": "r", "type": "quantitative", "axis": null}}},
          {"mark": {"type": "line", "clip": true, "color": "#1f9e08"}, "encoding": {"x": {"field": "h", "type": "quantitative", "axis": null}, "y": {"field": "g", "type": "quantitative", "axis": null}}}
         ]},
        {"width": 787, "height": 698, "data": {"name": "p21"},
         "layer": [
          {"mark": {"type": "area", "clip": true, "color": "#5b5bff", "opacity": 0.06},
           "encoding": {"x": {"field": "h", "type": "quantitative", "scale": {"domain": [0, 16], "nice": false}, "axis": {"orient": "bottom", "values": [0,2,4,6,8,10,12,14,16], "title": null}},
             "y": {"field": "bl", "type": "quantitative", "scale": {"domain": [-1.5, 0.5], "nice": false, "zero": false}, "axis": {"orient": "left", "values": [-1.5,-1,-0.5,0,0.5], "labelExpr": "'' + datum.value", "title": "P"}},
             "y2": {"field": "bu"}}},
          {"mark": {"type": "area", "clip": true, "color": "#5b5bff", "opacity": 0.09},
           "encoding": {"x": {"field": "h", "type": "quantitative", "axis": null}, "y": {"field": "il", "type": "quantitative", "axis": null}, "y2": {"field": "iu"}}},
          {"mark": {"type": "area", "clip": true, "color": "#d526b4", "opacity": 0.12},
           "encoding": {"x": {"field": "h", "type": "quantitative", "axis": null}, "y": {"field": "rl", "type": "quantitative", "axis": null}, "y2": {"field": "ru"}}},
          {"mark": {"type": "rule", "color": "#000000", "strokeWidth": 6.5}, "encoding": {"y": {"datum": 0, "axis": null}}},
          {"mark": {"type": "line", "clip": true, "color": "#1e32ff"},
           "encoding": {"x": {"field": "h", "type": "quantitative", "axis": {"orient": "top", "values": [0,2,4,6,8,10,12,14,16], "labels": false, "grid": false, "title": null}},
             "y": {"field": "b", "type": "quantitative", "axis": {"orient": "right", "values": [-1.5,-1,-0.5,0,0.5], "labels": false, "grid": false, "title": null}}}},
          {"mark": {"type": "line", "clip": true, "color": "#ff0a0a"}, "encoding": {"x": {"field": "h", "type": "quantitative", "axis": null}, "y": {"field": "r", "type": "quantitative", "axis": null}}},
          {"mark": {"type": "line", "clip": true, "color": "#1f9e08"}, "encoding": {"x": {"field": "h", "type": "quantitative", "axis": null}, "y": {"field": "g", "type": "quantitative", "axis": null}}}
         ]},
        {"width": 787, "height": 698, "data": {"name": "p22"},
         "layer": [
          {"mark": {"type": "area", "clip": true, "color": "#5b5bff", "opacity": 0.06},
           "encoding": {"x": {"field": "h", "type": "quantitative", "scale": {"domain": [0, 16], "nice": false}, "axis": {"orient": "bottom", "values": [0,2,4,6,8,10,12,14,16], "title": null}},
             "y": {"field": "bl", "type": "quantitative", "scale": {"domain": [-1.5, 0.5], "nice": false, "zero": false}, "axis": {"orient": "left", "values": [-1.5,-1,-0.5,0,0.5], "labelExpr": "'' + datum.value", "title": null}},
             "y2": {"field": "bu"}}},
          {"mark": {"type": "area", "clip": true, "color": "#5b5bff", "opacity": 0.09},
           "encoding": {"x": {"field": "h", "type": "quantitative", "axis": null}, "y": {"field": "il", "type": "quantitative", "axis": null}, "y2": {"field": "iu"}}},
          {"mark": {"type": "area", "clip": true, "color": "#d526b4", "opacity": 0.12},
           "encoding": {"x": {"field": "h", "type": "quantitative", "axis": null}, "y": {"field": "rl", "type": "quantitative", "axis": null}, "y2": {"field": "ru"}}},
          {"mark": {"type": "rule", "color": "#000000", "strokeWidth": 6.5}, "encoding": {"y": {"datum": 0, "axis": null}}},
          {"mark": {"type": "line", "clip": true, "color": "#1e32ff"},
           "encoding": {"x": {"field": "h", "type": "quantitative", "axis": {"orient": "top", "values": [0,2,4,6,8,10,12,14,16], "labels": false, "grid": false, "title": null}},
             "y": {"field": "b", "type": "quantitative", "axis": {"orient": "right", "values": [-1.5,-1,-0.5,0,0.5], "labels": false, "grid": false, "title": null}}}},
          {"mark": {"type": "line", "clip": true, "color": "#ff0a0a"}, "encoding": {"x": {"field": "h", "type": "quantitative", "axis": null}, "y": {"field": "r", "type": "quantitative", "axis": null}}},
          {"mark": {"type": "line", "clip": true, "color": "#1f9e08"}, "encoding": {"x": {"field": "h", "type": "quantitative", "axis": null}, "y": {"field": "g", "type": "quantitative", "axis": null}}}
         ]},
        {"width": 787, "height": 698, "data": {"name": "p31"},
         "layer": [
          {"mark": {"type": "area", "clip": true, "color": "#5b5bff", "opacity": 0.06},
           "encoding": {"x": {"field": "h", "type": "quantitative", "scale": {"domain": [0, 16], "nice": false}, "axis": {"orient": "bottom", "values": [0,2,4,6,8,10,12,14,16], "title": null}},
             "y": {"field": "bl", "type": "quantitative", "scale": {"domain": [-1, 1], "nice": false, "zero": false}, "axis": {"orient": "left", "values": [-1,-0.5,0,0.5,1], "labelExpr": "'' + datum.value", "title": ["Fed Funds", "Rate"]}},
             "y2": {"field": "bu"}}},
          {"mark": {"type": "area", "clip": true, "color": "#5b5bff", "opacity": 0.09},
           "encoding": {"x": {"field": "h", "type": "quantitative", "axis": null}, "y": {"field": "il", "type": "quantitative", "axis": null}, "y2": {"field": "iu"}}},
          {"mark": {"type": "area", "clip": true, "color": "#d526b4", "opacity": 0.12},
           "encoding": {"x": {"field": "h", "type": "quantitative", "axis": null}, "y": {"field": "rl", "type": "quantitative", "axis": null}, "y2": {"field": "ru"}}},
          {"mark": {"type": "rule", "color": "#000000", "strokeWidth": 6.5}, "encoding": {"y": {"datum": 0, "axis": null}}},
          {"mark": {"type": "line", "clip": true, "color": "#1e32ff"},
           "encoding": {"x": {"field": "h", "type": "quantitative", "axis": {"orient": "top", "values": [0,2,4,6,8,10,12,14,16], "labels": false, "grid": false, "title": null}},
             "y": {"field": "b", "type": "quantitative", "axis": {"orient": "right", "values": [-1,-0.5,0,0.5,1], "labels": false, "grid": false, "title": null}}}},
          {"mark": {"type": "line", "clip": true, "color": "#ff0a0a"}, "encoding": {"x": {"field": "h", "type": "quantitative", "axis": null}, "y": {"field": "r", "type": "quantitative", "axis": null}}},
          {"mark": {"type": "line", "clip": true, "color": "#1f9e08"}, "encoding": {"x": {"field": "h", "type": "quantitative", "axis": null}, "y": {"field": "g", "type": "quantitative", "axis": null}}}
         ]},
        {"width": 787, "height": 698, "data": {"name": "p32"},
         "layer": [
          {"mark": {"type": "area", "clip": true, "color": "#5b5bff", "opacity": 0.06},
           "encoding": {"x": {"field": "h", "type": "quantitative", "scale": {"domain": [0, 16], "nice": false}, "axis": {"orient": "bottom", "values": [0,2,4,6,8,10,12,14,16], "title": null}},
             "y": {"field": "bl", "type": "quantitative", "scale": {"domain": [-2.5, 0.5], "nice": false, "zero": false}, "axis": {"orient": "left", "values": [-2.5,-2,-1.5,-1,-0.5,0,0.5], "labelExpr": "'' + datum.value", "title": "DM4"}},
             "y2": {"field": "bu"}}},
          {"mark": {"type": "area", "clip": true, "color": "#5b5bff", "opacity": 0.09},
           "encoding": {"x": {"field": "h", "type": "quantitative", "axis": null}, "y": {"field": "il", "type": "quantitative", "axis": null}, "y2": {"field": "iu"}}},
          {"mark": {"type": "area", "clip": true, "color": "#d526b4", "opacity": 0.12},
           "encoding": {"x": {"field": "h", "type": "quantitative", "axis": null}, "y": {"field": "rl", "type": "quantitative", "axis": null}, "y2": {"field": "ru"}}},
          {"mark": {"type": "rule", "color": "#000000", "strokeWidth": 6.5}, "encoding": {"y": {"datum": 0, "axis": null}}},
          {"mark": {"type": "line", "clip": true, "color": "#1e32ff"},
           "encoding": {"x": {"field": "h", "type": "quantitative", "axis": {"orient": "top", "values": [0,2,4,6,8,10,12,14,16], "labels": false, "grid": false, "title": null}},
             "y": {"field": "b", "type": "quantitative", "axis": {"orient": "right", "values": [-2.5,-2,-1.5,-1,-0.5,0,0.5], "labels": false, "grid": false, "title": null}}}},
          {"mark": {"type": "line", "clip": true, "color": "#ff0a0a"}, "encoding": {"x": {"field": "h", "type": "quantitative", "axis": null}, "y": {"field": "r", "type": "quantitative", "axis": null}}},
          {"mark": {"type": "line", "clip": true, "color": "#1f9e08"}, "encoding": {"x": {"field": "h", "type": "quantitative", "axis": null}, "y": {"field": "g", "type": "quantitative", "axis": null}}}
         ]}
      ]
    },
    {
      "title": {"text": "1967Q1-2023Q4", "font": "DejaVu Serif", "fontSize": 78, "fontWeight": "bold", "baseline": "alphabetic", "anchor": "middle", "offset": 94, "dx": 145},
      "columns": 2,
      "spacing": {"column": 199, "row": 276},
      "bounds": "flush",
      "concat": [
        {"width": 787, "height": 698, "data": {"name": "p13"},
         "title": {"text": "Shadow Rate", "baseline": "alphabetic", "offset": -72},
         "layer": [
          {"mark": {"type": "area", "clip": true, "color": "#5b5bff", "opacity": 0.06},
           "encoding": {"x": {"field": "h", "type": "quantitative", "scale": {"domain": [0, 16], "nice": false}, "axis": {"orient": "bottom", "values": [0,2,4,6,8,10,12,14,16], "title": null}},
             "y": {"field": "bl", "type": "quantitative", "scale": {"domain": [-1, 0.5], "nice": false, "zero": false}, "axis": {"orient": "left", "values": [-1,-0.5,0,0.5], "labelExpr": "'' + datum.value", "title": "Y"}},
             "y2": {"field": "bu"}}},
          {"mark": {"type": "area", "clip": true, "color": "#5b5bff", "opacity": 0.09},
           "encoding": {"x": {"field": "h", "type": "quantitative", "axis": null}, "y": {"field": "il", "type": "quantitative", "axis": null}, "y2": {"field": "iu"}}},
          {"mark": {"type": "area", "clip": true, "color": "#d526b4", "opacity": 0.12},
           "encoding": {"x": {"field": "h", "type": "quantitative", "axis": null}, "y": {"field": "rl", "type": "quantitative", "axis": null}, "y2": {"field": "ru"}}},
          {"mark": {"type": "rule", "color": "#000000", "strokeWidth": 6.5}, "encoding": {"y": {"datum": 0, "axis": null}}},
          {"mark": {"type": "line", "clip": true, "color": "#1e32ff"},
           "encoding": {"x": {"field": "h", "type": "quantitative", "axis": {"orient": "top", "values": [0,2,4,6,8,10,12,14,16], "labels": false, "grid": false, "title": null}},
             "y": {"field": "b", "type": "quantitative", "axis": {"orient": "right", "values": [-1,-0.5,0,0.5], "labels": false, "grid": false, "title": null}}}},
          {"mark": {"type": "line", "clip": true, "color": "#ff0a0a"}, "encoding": {"x": {"field": "h", "type": "quantitative", "axis": null}, "y": {"field": "r", "type": "quantitative", "axis": null}}},
          {"mark": {"type": "line", "clip": true, "color": "#1f9e08"}, "encoding": {"x": {"field": "h", "type": "quantitative", "axis": null}, "y": {"field": "g", "type": "quantitative", "axis": null}}}
         ]},
        {"width": 787, "height": 698, "data": {"name": "p14"},
         "title": {"text": "DM4", "baseline": "alphabetic", "offset": -72},
         "layer": [
          {"mark": {"type": "area", "clip": true, "color": "#5b5bff", "opacity": 0.06},
           "encoding": {"x": {"field": "h", "type": "quantitative", "scale": {"domain": [0, 16], "nice": false}, "axis": {"orient": "bottom", "values": [0,2,4,6,8,10,12,14,16], "title": null}},
             "y": {"field": "bl", "type": "quantitative", "scale": {"domain": [-1, 0.5], "nice": false, "zero": false}, "axis": {"orient": "left", "values": [-1,-0.5,0,0.5], "labelExpr": "'' + datum.value", "title": null}},
             "y2": {"field": "bu"}}},
          {"mark": {"type": "area", "clip": true, "color": "#5b5bff", "opacity": 0.09},
           "encoding": {"x": {"field": "h", "type": "quantitative", "axis": null}, "y": {"field": "il", "type": "quantitative", "axis": null}, "y2": {"field": "iu"}}},
          {"mark": {"type": "area", "clip": true, "color": "#d526b4", "opacity": 0.12},
           "encoding": {"x": {"field": "h", "type": "quantitative", "axis": null}, "y": {"field": "rl", "type": "quantitative", "axis": null}, "y2": {"field": "ru"}}},
          {"mark": {"type": "rule", "color": "#000000", "strokeWidth": 6.5}, "encoding": {"y": {"datum": 0, "axis": null}}},
          {"mark": {"type": "line", "clip": true, "color": "#1e32ff"},
           "encoding": {"x": {"field": "h", "type": "quantitative", "axis": {"orient": "top", "values": [0,2,4,6,8,10,12,14,16], "labels": false, "grid": false, "title": null}},
             "y": {"field": "b", "type": "quantitative", "axis": {"orient": "right", "values": [-1,-0.5,0,0.5], "labels": false, "grid": false, "title": null}}}},
          {"mark": {"type": "line", "clip": true, "color": "#ff0a0a"}, "encoding": {"x": {"field": "h", "type": "quantitative", "axis": null}, "y": {"field": "r", "type": "quantitative", "axis": null}}},
          {"mark": {"type": "line", "clip": true, "color": "#1f9e08"}, "encoding": {"x": {"field": "h", "type": "quantitative", "axis": null}, "y": {"field": "g", "type": "quantitative", "axis": null}}}
         ]},
        {"width": 787, "height": 698, "data": {"name": "p23"},
         "layer": [
          {"mark": {"type": "area", "clip": true, "color": "#5b5bff", "opacity": 0.06},
           "encoding": {"x": {"field": "h", "type": "quantitative", "scale": {"domain": [0, 16], "nice": false}, "axis": {"orient": "bottom", "values": [0,2,4,6,8,10,12,14,16], "title": null}},
             "y": {"field": "bl", "type": "quantitative", "scale": {"domain": [-2.25, 0.75], "nice": false, "zero": false}, "axis": {"orient": "left", "values": [-2.25,-1.5,-0.75,0,0.75], "labelExpr": "'' + datum.value", "title": "P"}},
             "y2": {"field": "bu"}}},
          {"mark": {"type": "area", "clip": true, "color": "#5b5bff", "opacity": 0.09},
           "encoding": {"x": {"field": "h", "type": "quantitative", "axis": null}, "y": {"field": "il", "type": "quantitative", "axis": null}, "y2": {"field": "iu"}}},
          {"mark": {"type": "area", "clip": true, "color": "#d526b4", "opacity": 0.12},
           "encoding": {"x": {"field": "h", "type": "quantitative", "axis": null}, "y": {"field": "rl", "type": "quantitative", "axis": null}, "y2": {"field": "ru"}}},
          {"mark": {"type": "rule", "color": "#000000", "strokeWidth": 6.5}, "encoding": {"y": {"datum": 0, "axis": null}}},
          {"mark": {"type": "line", "clip": true, "color": "#1e32ff"},
           "encoding": {"x": {"field": "h", "type": "quantitative", "axis": {"orient": "top", "values": [0,2,4,6,8,10,12,14,16], "labels": false, "grid": false, "title": null}},
             "y": {"field": "b", "type": "quantitative", "axis": {"orient": "right", "values": [-2.25,-1.5,-0.75,0,0.75], "labels": false, "grid": false, "title": null}}}},
          {"mark": {"type": "line", "clip": true, "color": "#ff0a0a"}, "encoding": {"x": {"field": "h", "type": "quantitative", "axis": null}, "y": {"field": "r", "type": "quantitative", "axis": null}}},
          {"mark": {"type": "line", "clip": true, "color": "#1f9e08"}, "encoding": {"x": {"field": "h", "type": "quantitative", "axis": null}, "y": {"field": "g", "type": "quantitative", "axis": null}}}
         ]},
        {"width": 787, "height": 698, "data": {"name": "p24"},
         "layer": [
          {"mark": {"type": "area", "clip": true, "color": "#5b5bff", "opacity": 0.06},
           "encoding": {"x": {"field": "h", "type": "quantitative", "scale": {"domain": [0, 16], "nice": false}, "axis": {"orient": "bottom", "values": [0,2,4,6,8,10,12,14,16], "title": null}},
             "y": {"field": "bl", "type": "quantitative", "scale": {"domain": [-2.25, 0.75], "nice": false, "zero": false}, "axis": {"orient": "left", "values": [-2.25,-1.5,-0.75,0,0.75], "labelExpr": "'' + datum.value", "title": null}},
             "y2": {"field": "bu"}}},
          {"mark": {"type": "area", "clip": true, "color": "#5b5bff", "opacity": 0.09},
           "encoding": {"x": {"field": "h", "type": "quantitative", "axis": null}, "y": {"field": "il", "type": "quantitative", "axis": null}, "y2": {"field": "iu"}}},
          {"mark": {"type": "area", "clip": true, "color": "#d526b4", "opacity": 0.12},
           "encoding": {"x": {"field": "h", "type": "quantitative", "axis": null}, "y": {"field": "rl", "type": "quantitative", "axis": null}, "y2": {"field": "ru"}}},
          {"mark": {"type": "rule", "color": "#000000", "strokeWidth": 6.5}, "encoding": {"y": {"datum": 0, "axis": null}}},
          {"mark": {"type": "line", "clip": true, "color": "#1e32ff"},
           "encoding": {"x": {"field": "h", "type": "quantitative", "axis": {"orient": "top", "values": [0,2,4,6,8,10,12,14,16], "labels": false, "grid": false, "title": null}},
             "y": {"field": "b", "type": "quantitative", "axis": {"orient": "right", "values": [-2.25,-1.5,-0.75,0,0.75], "labels": false, "grid": false, "title": null}}}},
          {"mark": {"type": "line", "clip": true, "color": "#ff0a0a"}, "encoding": {"x": {"field": "h", "type": "quantitative", "axis": null}, "y": {"field": "r", "type": "quantitative", "axis": null}}},
          {"mark": {"type": "line", "clip": true, "color": "#1f9e08"}, "encoding": {"x": {"field": "h", "type": "quantitative", "axis": null}, "y": {"field": "g", "type": "quantitative", "axis": null}}}
         ]},
        {"width": 787, "height": 698, "data": {"name": "p33"},
         "layer": [
          {"mark": {"type": "area", "clip": true, "color": "#5b5bff", "opacity": 0.06},
           "encoding": {"x": {"field": "h", "type": "quantitative", "scale": {"domain": [0, 16], "nice": false}, "axis": {"orient": "bottom", "values": [0,2,4,6,8,10,12,14,16], "title": null}},
             "y": {"field": "bl", "type": "quantitative", "scale": {"domain": [-0.5, 1.5], "nice": false, "zero": false}, "axis": {"orient": "left", "values": [-0.5,0,0.5,1,1.5], "labelExpr": "'' + datum.value", "title": ["Shadow", "Rate"]}},
             "y2": {"field": "bu"}}},
          {"mark": {"type": "area", "clip": true, "color": "#5b5bff", "opacity": 0.09},
           "encoding": {"x": {"field": "h", "type": "quantitative", "axis": null}, "y": {"field": "il", "type": "quantitative", "axis": null}, "y2": {"field": "iu"}}},
          {"mark": {"type": "area", "clip": true, "color": "#d526b4", "opacity": 0.12},
           "encoding": {"x": {"field": "h", "type": "quantitative", "axis": null}, "y": {"field": "rl", "type": "quantitative", "axis": null}, "y2": {"field": "ru"}}},
          {"mark": {"type": "rule", "color": "#000000", "strokeWidth": 6.5}, "encoding": {"y": {"datum": 0, "axis": null}}},
          {"mark": {"type": "line", "clip": true, "color": "#1e32ff"},
           "encoding": {"x": {"field": "h", "type": "quantitative", "axis": {"orient": "top", "values": [0,2,4,6,8,10,12,14,16], "labels": false, "grid": false, "title": null}},
             "y": {"field": "b", "type": "quantitative", "axis": {"orient": "right", "values": [-0.5,0,0.5,1,1.5], "labels": false, "grid": false, "title": null}}}},
          {"mark": {"type": "line", "clip": true, "color": "#ff0a0a"}, "encoding": {"x": {"field": "h", "type": "quantitative", "axis": null}, "y": {"field": "r", "type": "quantitative", "axis": null}}},
          {"mark": {"type": "line", "clip": true, "color": "#1f9e08"}, "encoding": {"x": {"field": "h", "type": "quantitative", "axis": null}, "y": {"field": "g", "type": "quantitative", "axis": null}}}
         ]},
        {"width": 787, "height": 698, "data": {"name": "p34"},
         "layer": [
          {"mark": {"type": "area", "clip": true, "color": "#5b5bff", "opacity": 0.06},
           "encoding": {"x": {"field": "h", "type": "quantitative", "scale": {"domain": [0, 16], "nice": false}, "axis": {"orient": "bottom", "values": [0,2,4,6,8,10,12,14,16], "title": null}},
             "y": {"field": "bl", "type": "quantitative", "scale": {"domain": [-5, 1], "nice": false, "zero": false}, "axis": {"orient": "left", "values": [-5,-4,-3,-2,-1,0,1], "labelExpr": "'' + datum.value", "title": "DM4"}},
             "y2": {"field": "bu"}}},
          {"mark": {"type": "area", "clip": true, "color": "#5b5bff", "opacity": 0.09},
           "encoding": {"x": {"field": "h", "type": "quantitative", "axis": null}, "y": {"field": "il", "type": "quantitative", "axis": null}, "y2": {"field": "iu"}}},
          {"mark": {"type": "area", "clip": true, "color": "#d526b4", "opacity": 0.12},
           "encoding": {"x": {"field": "h", "type": "quantitative", "axis": null}, "y": {"field": "rl", "type": "quantitative", "axis": null}, "y2": {"field": "ru"}}},
          {"mark": {"type": "rule", "color": "#000000", "strokeWidth": 6.5}, "encoding": {"y": {"datum": 0, "axis": null}}},
          {"mark": {"type": "line", "clip": true, "color": "#1e32ff"},
           "encoding": {"x": {"field": "h", "type": "quantitative", "axis": {"orient": "top", "values": [0,2,4,6,8,10,12,14,16], "labels": false, "grid": false, "title": null}},
             "y": {"field": "b", "type": "quantitative", "axis": {"orient": "right", "values": [-5,-4,-3,-2,-1,0,1], "labels": false, "grid": false, "title": null}}}},
          {"mark": {"type": "line", "clip": true, "color": "#ff0a0a"}, "encoding": {"x": {"field": "h", "type": "quantitative", "axis": null}, "y": {"field": "r", "type": "quantitative", "axis": null}}},
          {"mark": {"type": "line", "clip": true, "color": "#1f9e08"}, "encoding": {"x": {"field": "h", "type": "quantitative", "axis": null}, "y": {"field": "g", "type": "quantitative", "axis": null}}}
         ]}
      ]
    }
  ],
  "spacing": 37
}
